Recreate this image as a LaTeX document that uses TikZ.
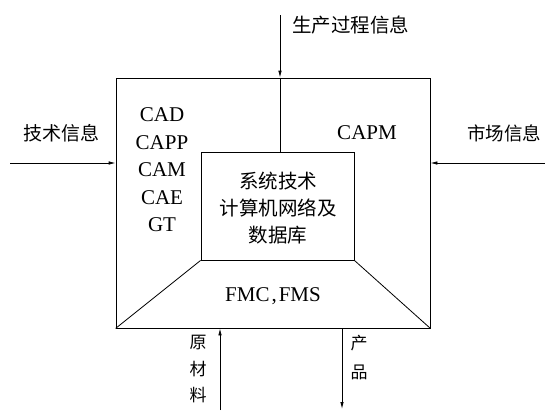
\documentclass[tikz,border=0pt]{standalone}
\usepackage{fontspec}
\setmainfont{Liberation Serif}
\newfontfamily\cjk{Noto Sans CJK SC}
\usetikzlibrary{arrows.meta}
\begin{document}
\begin{tikzpicture}[x=1pt,y=-1pt,
  line/.style={line width=0.8pt},
  arr/.style={line width=0.8pt,-{Latex[length=7pt,width=3.5pt]}},
  lat/.style={font=\fontsize{21}{27.5}\selectfont,align=center,inner sep=0pt},
  zh/.style={font=\cjk\fontsize{19.5}{27}\selectfont,align=center,inner sep=0pt},
  zhs/.style={font=\cjk\fontsize{17}{27}\selectfont,align=center,inner sep=0pt}]
\useasboundingbox (0,0) rectangle (545,410);
% outer box
\node[draw,line,minimum width=314pt,minimum height=250pt,inner sep=0pt] (outer) at (273,203) {};
% inner box
\node[draw,line,minimum width=153pt,minimum height=108pt,inner sep=0pt] (inner) at (277.5,206) {};
\draw[line] (inner.south west) -- (outer.south west);
\draw[line] (inner.south east) -- (outer.south east);
% top arrow
\coordinate (topstart) at (280,15);
\draw[arr] (topstart) -- (topstart |- outer.north);
\draw[line] (topstart |- outer.north) -- (topstart |- inner.north);
\node[zh,anchor=west] (tl) at (292,25) {生产过程信息};
% left arrow
\coordinate (lstart) at (10,163);
\draw[arr] (lstart) -- (lstart -| outer.west);
\node[zh,font=\cjk\fontsize{19}{27}\selectfont] (ll) at (61,133) {技术信息};
% right arrow
\coordinate (rstart) at (545,163);
\draw[arr] (rstart) -- (rstart -| outer.east);
\node[zh,font=\cjk\fontsize{18.5}{27}\selectfont] (rl) at (504,133) {市场信息};
% bottom arrows
\coordinate (bl) at (220,410);
\draw[arr] (bl) -- (bl |- outer.south);
\node[zhs,font=\cjk\fontsize{17}{26.5}\selectfont] (blt) at (198,369) {原\\材\\料};
\coordinate (br) at (342,328);
\coordinate (brend) at (342,409);
\draw[arr] (br) -- (brend);
\node[zhs,font=\cjk\fontsize{17}{29}\selectfont] (brt) at (359,357.5) {产\\品};
% texts
\node[lat] (cad) at (162,170) {CAD\\CAPP\\CAM\\CAE\\GT};
\node[lat] (capm) at (367,133) {CAPM};
\node[zh] (sys) at (278,208) {系统技术\\计算机网络及\\数据库};
\node[lat] (fmc) at (273,296) {FMC\kern2pt,\kern2pt FMS};
\end{tikzpicture}
\end{document}
